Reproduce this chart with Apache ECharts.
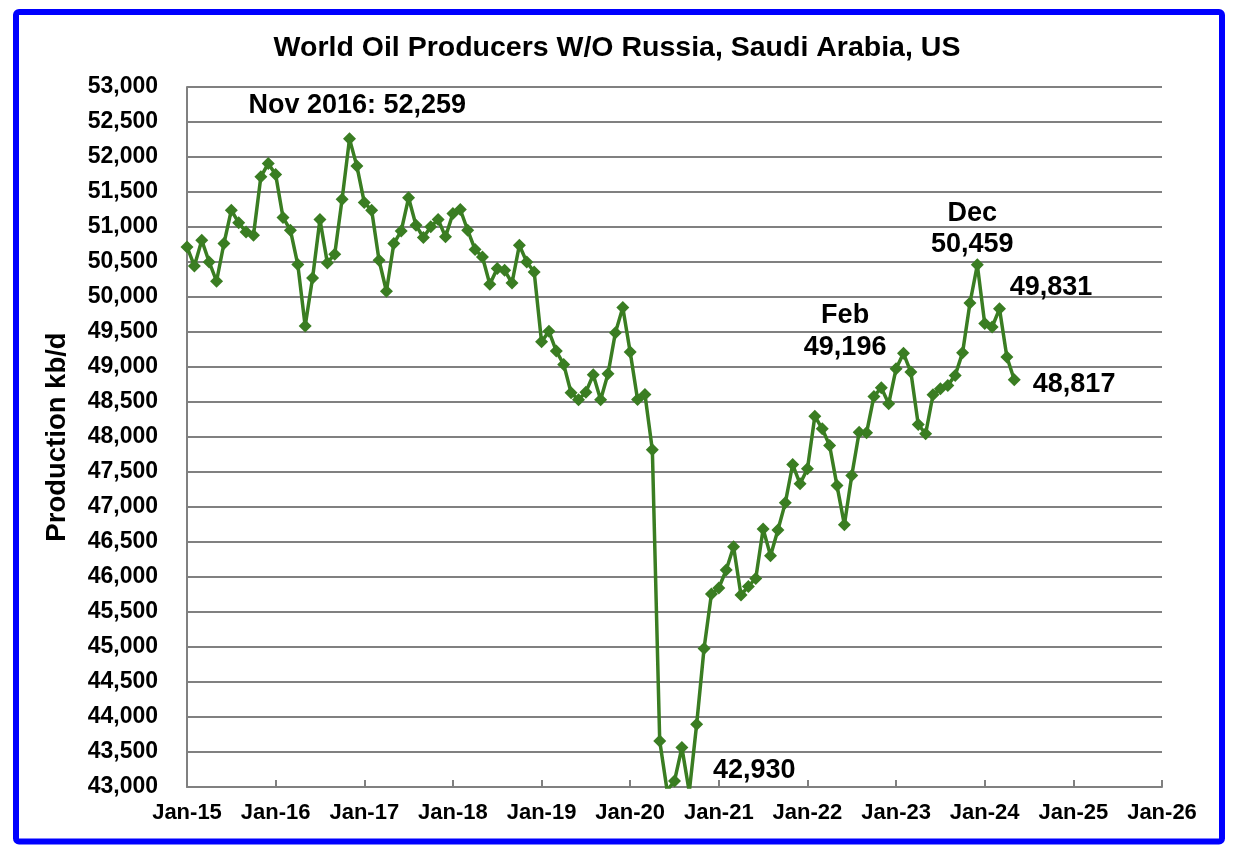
<!DOCTYPE html>
<html>
<head>
<meta charset="utf-8">
<script src="https://cdn.jsdelivr.net/npm/echarts@6/dist/echarts.min.js"></script>
<style>
html,body{margin:0;padding:0;background:#fff;}
#chart{width:1234px;height:856px;}
</style>
</head>
<body>
<div id="chart"></div>
<script>
// Monthly production (kb/d), Jan-15 .. May-24
const startYear = 15;
const production = [
  50715, 50444, 50811, 50501, 50225, 50764, 51240, 51059, 50930, 50883, 51717, 51908,
  51751, 51136, 50954, 50463, 49585, 50272, 51107, 50487, 50611, 51398, 52259, 51870,
  51351, 51240, 50525, 50082, 50764, 50944, 51417, 51026, 50850, 51002, 51107, 50859,
  51193, 51250, 50954, 50678, 50572, 50182, 50406, 50382, 50200, 50740, 50501, 50358,
  49360, 49509, 49228, 49037, 48632, 48532, 48641, 48890, 48532, 48904, 49491, 49849,
  49213, 48537, 48608, 47817, 43658, 42950, 43086, 43563, 42930, 43897, 44979, 45757,
  45843, 46100, 46433, 45743, 45866, 45980, 46687, 46305, 46672, 47059, 47607, 47331,
  47545, 48298, 48117, 47878, 47306, 46748, 47449, 48069, 48060, 48579, 48704, 48475,
  48976, 49196, 48927, 48179, 48046, 48604, 48690, 48737, 48880, 49205, 49914, 50459,
  49620, 49571, 49831, 49142, 48817
];
const xTickLabels = ['Jan-15','Jan-16','Jan-17','Jan-18','Jan-19','Jan-20','Jan-21','Jan-22','Jan-23','Jan-24','Jan-25','Jan-26'];
const annotationTexts = ['Nov 2016: 52,259', 'Feb', '49,196', 'Dec', '50,459', '49,831', '48,817', '42,930'];
// anchors in data space: [month index, kb/d]
const annotationAnchors = [[23.05, 52739], [89.1, 49740], [89.1, 49283], [106.3, 51196], [106.3, 50754], [116.98, 50140], [120.1, 48755], [76.8, 43242]];

const Y_MIN = 43000, Y_MAX = 53000;
const seriesData = production.map((v, i) => (
  v < Y_MIN ? {value: [i, v], symbol: 'none'} : [i, v]
));
const FONT = "'Liberation Sans', Arial, Helvetica, sans-serif";

const chart = echarts.init(document.getElementById('chart'), null, {renderer: 'canvas'});
chart.setOption({
  backgroundColor: '#ffffff',
  animation: false,
  title: {
    text: 'World Oil Producers W/O Russia, Saudi Arabia, US',
    left: 'center',
    top: 29,
    textStyle: {fontFamily: FONT, fontWeight: 'bold', fontSize: 28.5, color: '#000'}
  },
  grid: {left: 187, right: 72, top: 87, bottom: 69, containLabel: false},
  xAxis: {
    type: 'value',
    min: 0,
    max: (xTickLabels.length - 1) * 12,
    interval: 12,
    axisLine: {show: true, lineStyle: {color: '#808080', width: 2}},
    axisTick: {show: true, inside: true, length: 7, lineStyle: {color: '#808080', width: 2}},
    splitLine: {show: false},
    axisLabel: {
      margin: 15,
      fontFamily: FONT, fontWeight: 'bold', fontSize: 22, color: '#000',
      formatter: function (v) { return xTickLabels[Math.round(v / 12)]; }
    }
  },
  yAxis: {
    type: 'value',
    min: Y_MIN,
    max: Y_MAX,
    interval: 500,
    name: 'Production kb/d',
    nameLocation: 'middle',
    nameRotate: 90,
    nameGap: 116,
    nameTextStyle: {fontFamily: FONT, fontWeight: 'bold', fontSize: 27.5, color: '#000'},
    axisLine: {show: true, lineStyle: {color: '#808080', width: 2}},
    axisTick: {show: false},
    splitLine: {show: true, lineStyle: {color: '#808080', width: 2}},
    axisLabel: {
      margin: 29,
      fontFamily: FONT, fontWeight: 'bold', fontSize: 23, color: '#000',
      formatter: function (v) { return v.toLocaleString('en-US'); }
    }
  },
  series: [{
    type: 'line',
    data: seriesData,
    clip: true,
    symbol: 'diamond',
    symbolSize: 13,
    showAllSymbol: true,
    lineStyle: {color: '#3A7D22', width: 3.5},
    itemStyle: {color: '#3A7D22'}
  }]
});

const graphics = [{
  type: 'rect',
  shape: {x: 16, y: 12, width: 1206, height: 829.5, r: 3},
  style: {fill: null, stroke: '#0000FF', lineWidth: 6},
  z: 100
}];
annotationTexts.forEach((t, i) => {
  const p = chart.convertToPixel({gridIndex: 0}, annotationAnchors[i]);
  graphics.push({
    type: 'text',
    x: p[0], y: p[1],
    style: {text: t, fontFamily: FONT, fontWeight: 'bold', fontSize: 27, fill: '#000', textAlign: 'center', textVerticalAlign: 'middle'},
    z: 50
  });
});
chart.setOption({graphic: graphics});
</script>
</body>
</html>
